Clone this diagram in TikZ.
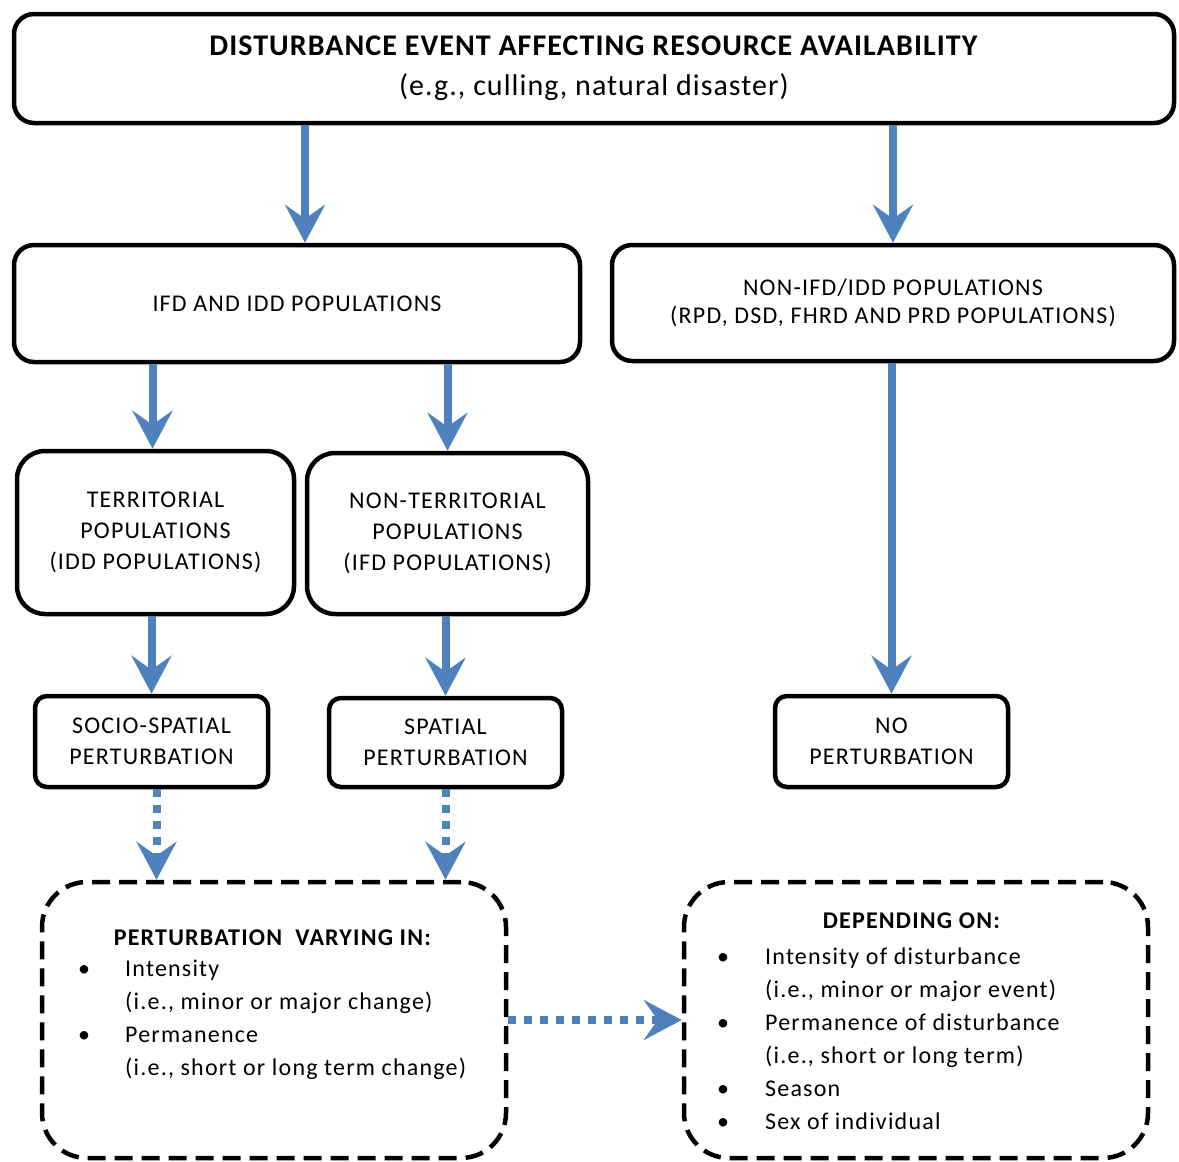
\documentclass[tikz,border=0pt]{standalone}
\usepackage{fontspec}
\setmainfont{Carlito}[LetterSpace=5]
\usetikzlibrary{arrows.meta}
\definecolor{arrowblue}{HTML}{4F81BD}
\tikzset{box/.style={rectangle,draw,line width=4.5pt,rounded corners=20pt,align=center,inner sep=0pt}}
\tikzset{dashbox/.style={box,rounded corners=45pt,dash pattern=on 18pt off 9pt}}
\tikzset{flow/.style={draw=arrowblue,line width=8pt,-{Stealth[length=38pt,width=40pt,inset=14pt]}}}
\tikzset{dotflow/.style={flow,dash pattern=on 8pt off 8pt}}

\begin{document}
\begin{tikzpicture}[x=1pt,y=-1pt,font=\fontsize{24}{31}\selectfont]
  \useasboundingbox (0,0) rectangle (1179,1162);
      \node[box,minimum width=1160pt,minimum height=109pt,font=\fontsize{30}{40}\selectfont\addfontfeature{LetterSpace=3.5}] (top) at (594,68.5)
        {\textbf{DISTURBANCE EVENT AFFECTING RESOURCE AVAILABILITY}\\(e.g., culling, natural disaster)};
      \node[box,minimum width=566pt,minimum height=117pt] (ifd) at (297,303.5) {IFD AND IDD POPULATIONS};
      \node[box,minimum width=562pt,minimum height=116pt,font=\fontsize{24}{28}\selectfont] (nonifd) at (893,303)
        {NON-IFD/IDD POPULATIONS\\(RPD, DSD, FHRD AND PRD POPULATIONS)};
      \node[box,rounded corners=28pt,minimum width=277pt,minimum height=163pt] (terr) at (155.5,532.5)
        {TERRITORIAL\\POPULATIONS\\(IDD POPULATIONS)};
      \node[box,rounded corners=28pt,minimum width=281pt,minimum height=161pt] (nonterr) at (447.5,533.5)
        {NON-TERRITORIAL\\POPULATIONS\\(IFD POPULATIONS)};
      \node[box,rounded corners=12pt,minimum width=233pt,minimum height=91pt] (socio) at (151.5,741.5)
        {SOCIO-SPATIAL\\PERTURBATION};
      \node[box,rounded corners=12pt,minimum width=233pt,minimum height=89pt] (spat) at (445.5,742.5)
        {SPATIAL\\PERTURBATION};
      \node[box,rounded corners=12pt,minimum width=233pt,minimum height=91pt] (nop) at (891.5,741.5)
        {NO\\PERTURBATION};
      \node[dashbox,minimum width=464pt,minimum height=276pt] (vary) at (274,1020) {};
      \node[dashbox,minimum width=464pt,minimum height=276pt] (dep) at (916,1020) {};
      \node (varytitle) at (273,938) {\textbf{PERTURBATION\ \ VARYING IN:}};
      \node[anchor=west,align=left,inner sep=0pt,font=\fontsize{24}{33}\selectfont] (varylist) at (78,1020)
        {\makebox[47pt][l]{\textbullet}Intensity\\
         \hspace*{47pt}(i.e., minor or major change)\\
         \makebox[47pt][l]{\textbullet}Permanence\\
         \hspace*{47pt}(i.e., short or long term change)};
      \node (deptitle) at (912,921) {\textbf{DEPENDING ON:}};
      \node[anchor=west,align=left,inner sep=0pt,font=\fontsize{24}{33}\selectfont] (deplist) at (717,1038.5)
        {\makebox[48pt][l]{\textbullet}Intensity of disturbance\\
         \hspace*{48pt}(i.e., minor or major event)\\
         \makebox[48pt][l]{\textbullet}Permanence of disturbance\\
         \hspace*{48pt}(i.e., short or long term)\\
         \makebox[48pt][l]{\textbullet}Season\\
         \makebox[48pt][l]{\textbullet}Sex of individual};
        \draw[flow] ([xshift=8pt]ifd.north |- top.south) -- ([xshift=8pt]ifd.north);
        \draw[flow] (nonifd.north |- top.south) -- (nonifd.north);
        \draw[flow] ([xshift=-3pt]terr.north |- ifd.south) -- ([xshift=-3pt]terr.north);
        \draw[flow] (nonterr.north |- ifd.south) -- (nonterr.north);
        \draw[flow] (nop.north |- nonifd.south) -- (nop.north);
        \draw[flow] (socio.north |- terr.south) -- (socio.north);
        \draw[flow] (spat.north |- nonterr.south) -- (spat.north);
        \draw[dotflow] ([xshift=5pt]socio.south) -- ([xshift=5pt]socio.south |- vary.north);
        \draw[dotflow] (spat.south) -- (spat.south |- vary.north);
        \draw[dotflow] (vary.east) -- (dep.west);
    \end{tikzpicture}
\end{document}
